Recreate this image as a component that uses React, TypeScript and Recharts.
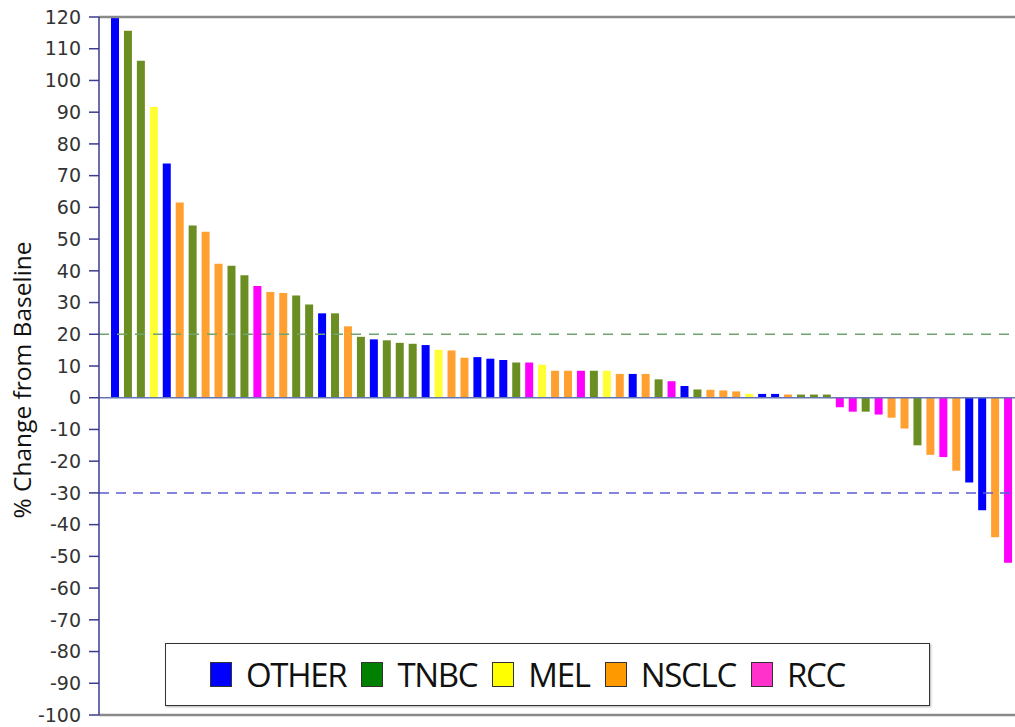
import { BarChart, Bar, Cell, XAxis, YAxis, ReferenceLine } from 'recharts'

const tumorTypes = [
  'OTHER', 'TNBC', 'TNBC', 'MEL', 'OTHER', 'NSCLC', 'TNBC', 'NSCLC', 'NSCLC', 'TNBC',
  'TNBC', 'RCC', 'NSCLC', 'NSCLC', 'TNBC', 'TNBC', 'OTHER', 'TNBC', 'NSCLC', 'TNBC',
  'OTHER', 'TNBC', 'TNBC', 'TNBC', 'OTHER', 'MEL', 'NSCLC', 'NSCLC', 'OTHER', 'OTHER',
  'OTHER', 'TNBC', 'RCC', 'MEL', 'NSCLC', 'NSCLC', 'RCC', 'TNBC', 'MEL', 'NSCLC',
  'OTHER', 'NSCLC', 'TNBC', 'RCC', 'OTHER', 'TNBC', 'NSCLC', 'NSCLC', 'NSCLC', 'MEL',
  'OTHER', 'OTHER', 'NSCLC', 'TNBC', 'TNBC', 'TNBC', 'RCC', 'RCC', 'TNBC', 'RCC',
  'NSCLC', 'NSCLC', 'TNBC', 'NSCLC', 'RCC', 'NSCLC', 'OTHER', 'OTHER', 'NSCLC', 'RCC',
]

const changes = [
  121, 115.7, 106.2, 91.6, 73.8, 61.5, 54.3, 52.3, 42.2, 41.6,
  38.6, 35.2, 33.3, 33.0, 32.2, 29.4, 26.6, 26.6, 22.5, 19.2,
  18.4, 18.1, 17.3, 17.0, 16.6, 15.1, 14.9, 12.6, 12.8, 12.3,
  11.9, 11.1, 11.1, 10.4, 8.5, 8.5, 8.5, 8.5, 8.5, 7.5,
  7.5, 7.5, 5.8, 5.2, 3.7, 2.6, 2.5, 2.3, 2.0, 1.2,
  1.2, 1.2, 1.0, 1.0, 1.0, 1.0, -3, -4.4, -4.4, -5.3,
  -6.3, -9.7, -15, -18, -18.7, -23, -26.7, -35.5, -44, -52,
]

const yTicks = [120, 110, 100, 90, 80, 70, 60, 50, 40, 30, 20, 10, 0, -10, -20, -30, -40, -50, -60, -70, -80, -90, -100]

const legendTypes = ['OTHER', 'TNBC', 'MEL', 'NSCLC', 'RCC']

// bar fill vs legend swatch colours differ a bit in the source
const barColors: Record<string, string> = {
  OTHER: '#0000ff',
  TNBC: '#6b8e23',
  MEL: '#ffff33',
  NSCLC: '#ffa030',
  RCC: '#ff00ff',
}
const swatchColors: Record<string, string> = {
  OTHER: '#0000ff',
  TNBC: '#008000',
  MEL: '#ffff00',
  NSCLC: '#ff9900',
  RCC: '#ff33cc',
}

const data = changes.map((v, i) => ({ patient: `P${i + 1}`, type: tumorTypes[i], change: v }))

const axisColor = '#3b3b8f'

function YLabel() {
  return (
    <text
      transform="translate(21,380) rotate(-90)"
      textAnchor="middle"
      dominantBaseline="central"
      style={{ fontFamily: '"Open Sans", sans-serif', fontSize: 24.5, fill: '#111' }}
    >
      % Change from Baseline
    </text>
  )
}

function LegendBox() {
  return (
    <div
      style={{
        position: 'absolute',
        left: 165,
        top: 643,
        width: 765,
        height: 63,
        boxSizing: 'border-box',
        border: '1.5px solid #333',
        background: '#fff',
        display: 'flex',
        alignItems: 'center',
        paddingLeft: 44,
        fontFamily: '"Open Sans", sans-serif',
        fontSize: 33,
        color: '#111',
        boxShadow: '1px 1px 2px rgba(0,0,0,0.3)',
      }}
    >
      {legendTypes.map((t) => (
        <div key={t} style={{ display: 'flex', alignItems: 'center', marginRight: 15 }}>
          <span
            style={{
              display: 'inline-block',
              width: 22,
              height: 25,
              background: swatchColors[t],
              border: '1px solid #333',
              boxSizing: 'border-box',
              marginRight: 14,
            }}
          />
          <span style={{ letterSpacing: -1.3 }}>{t}</span>
        </div>
      ))}
    </div>
  )
}

export default function App() {
  return (
    <div style={{ position: 'absolute', left: 0, top: 0, width: 1015, height: 727, background: '#fff', overflow: 'hidden' }}>
      <BarChart width={1015} height={727} data={data} margin={{ top: 17, right: 0, bottom: 12, left: 0 }} barSize={8}>
        <XAxis dataKey="patient" hide padding={{ left: 10, right: 0 }} />
        <YAxis
          width={99}
          domain={[-100, 120]}
          ticks={yTicks}
          interval={0}
          allowDataOverflow
          axisLine={{ stroke: axisColor, strokeWidth: 1.5 }}
          tickLine={{ stroke: axisColor, strokeWidth: 1.5 }}
          tickSize={10}
          tickMargin={8}
          tick={{ fill: '#333', fontSize: 19, fontFamily: '"DejaVu Sans", sans-serif' }}
          label={<YLabel />}
        />
        <ReferenceLine y={120} stroke="#8a8a8a" strokeWidth={2.5} />
        <ReferenceLine y={-100} stroke="#8a8a8a" strokeWidth={2.5} />
        <Bar dataKey="change" isAnimationActive={false}>
          {data.map((d) => (
            <Cell key={d.patient} fill={barColors[d.type]} />
          ))}
        </Bar>
        <ReferenceLine y={0} stroke="#6474b4" strokeWidth={1.5} />
        <ReferenceLine y={20} stroke="#6fa36f" strokeWidth={1.5} strokeDasharray="10 8" />
        <ReferenceLine y={-30} stroke="#5b5bd6" strokeWidth={1.5} strokeDasharray="10 7" />
      </BarChart>
      <LegendBox />
    </div>
  )
}
